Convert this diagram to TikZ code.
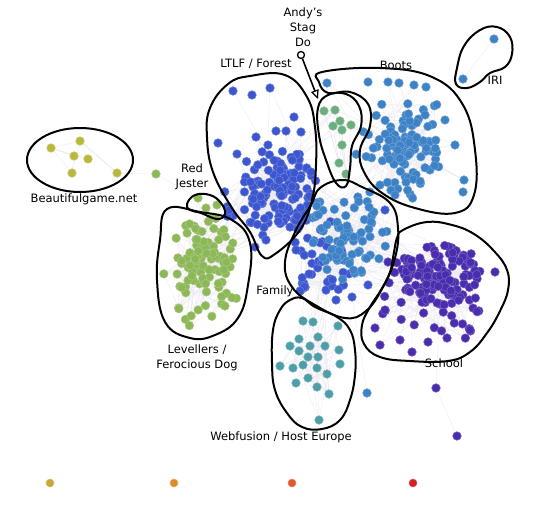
\documentclass[tikz,border=0pt]{standalone}
\usepackage{fontspec}
\setmainfont{DejaVu Sans}
\usetikzlibrary{arrows.meta}
\definecolor{cLT}{HTML}{3B56CF}
\definecolor{cBO}{HTML}{3D82C6}
\definecolor{cSC}{HTML}{4A2DAE}
\definecolor{cLV}{HTML}{8CB858}
\definecolor{cAN}{HTML}{6BAE7C}
\definecolor{cWF}{HTML}{4E9EA8}
\definecolor{cBG}{HTML}{B8B83C}
\definecolor{cEdge}{HTML}{ECE8F0}
\definecolor{cY}{HTML}{C9A838}
\definecolor{cO}{HTML}{E08A30}
\definecolor{cOR}{HTML}{E05A2A}
\definecolor{cR}{HTML}{D02222}
\tikzset{
  edge/.style={draw=cEdge, line width=0.35pt},
  netdot/.style={fill=#1, draw=#1!75!white, line width=0.5pt},
  blob/.style={draw=black, line width=2pt, line join=round},
  lbl/.style={font=\fontsize{11.5}{15}\selectfont, align=center, inner sep=0pt}
}
\newcommand\mkcl[7]{%
 \foreach \i in {1,...,#2}{%
  \pgfmathsetmacro\myang{360*rnd}%
  \pgfmathsetmacro\myr{rnd^#7}%
  \coordinate (#1-\i) at ({#3+#5*\myr*cos(\myang)},{#4+#6*\myr*sin(\myang)});}}
\newcommand\mklist[2]{\foreach \px/\py [count=\n] in {#2}{\coordinate (#1-\n) at (\px,\py);}}
\newcommand\edcl[3]{%
 \foreach \i in {1,...,#2}{\foreach \k in {1,...,#3}{%
  \pgfmathtruncatemacro\myj{random(1,#2)}%
  \draw[edge] (#1-\i) -- (#1-\myj);}}}
\newcommand\xed[5]{%
 \foreach \k in {1,...,#5}{%
  \pgfmathtruncatemacro\mya{random(1,#2)}%
  \pgfmathtruncatemacro\myb{random(1,#4)}%
  \draw[edge] (#1-\mya) -- (#3-\myb);}}
\newcommand\dtcl[3]{\foreach \i in {1,...,#2}{\path[netdot=#3] (#1-\i) circle (4.3pt);}}
\begin{document}
\begin{tikzpicture}[x=1pt,y=-1pt]
\useasboundingbox (0,0) rectangle (539,512);
\pgfmathsetseed{7}
% ---------- coordinates ----------
\mkcl{LVc}{55}{205}{252}{30}{36}{0.7}
\mkcl{LVs}{40}{203}{276}{40}{54}{0.6}
\mkcl{LTc}{95}{284}{188}{35}{38}{0.75}
\mkcl{LTs}{50}{270}{195}{48}{48}{0.6}
\mklist{LTx}{233/91,252/95,270/88,294/117,276/131,286/131,301/132,218/143,256/137,237/154,268/145,255/247,266/240}
\mkcl{BOc}{75}{406}{150}{34}{45}{0.75}
\mkcl{BOs}{35}{410}{150}{54}{54}{0.6}
\mklist{BOx}{327/83,368/82,388/82,399/83,414/85,426/87,464/180,463/192,445/120,455/145,380/185,395/195}
\mkcl{FLc}{78}{348}{232}{40}{48}{0.75}
\mkcl{FDs}{38}{322}{262}{32}{45}{0.7}
\mklist{FDx}{300/291,309/274,296/250,336/300,352/297,368/285,385/210}
\mkcl{SCc}{95}{440}{276}{38}{33}{0.75}
\mkcl{SCs}{60}{434}{294}{58}{54}{0.6}
\mklist{SCx}{375/328,380/345,400/340,412/352,428/342,447/338,470/330,495/272,385/310,388/262}
\mklist{WF}{303/321,313/322,338/326,299/339,318/337,290/346,310/346,325/346,339/350,299/351,308/357,318/357,280/366,293/368,303/365,317/368,340/364,327/374,308/378,296/383,317/387,329/394,319/420}
\mklist{AN}{324/111,335/110,340/121,333/126,342/130,351/125,342/145,339/163,346/174}
\mklist{BG}{51/148,80/141,74/156,88/159,72/173,117/173}
\mklist{RJ}{198/198,206/208,217/205}
\mklist{IR}{494/39,463/79}
\mklist{OUT}{367/393,436/388,457/436}
\coordinate (gout) at (156,174);
% ---------- edges ----------
\edcl{LVc}{55}{2}\edcl{LVs}{40}{2}\xed{LVc}{55}{LVs}{40}{40}
\edcl{LTc}{95}{2}\edcl{LTs}{50}{2}\xed{LTc}{95}{LTs}{50}{40}\xed{LTx}{13}{LTc}{95}{20}
\edcl{BOc}{75}{2}\edcl{BOs}{35}{2}\xed{BOc}{75}{BOs}{35}{30}\xed{BOx}{12}{BOc}{75}{20}
\edcl{FLc}{78}{2}\edcl{FDs}{38}{2}\xed{FLc}{78}{FDs}{38}{30}
\edcl{SCc}{95}{2}\edcl{SCs}{60}{2}\xed{SCc}{95}{SCs}{60}{40}\xed{SCx}{10}{SCc}{95}{15}
\edcl{WF}{23}{3}\edcl{AN}{9}{3}\edcl{BG}{6}{3}
\xed{LTc}{95}{FLc}{78}{25}\xed{LTs}{50}{LVc}{55}{20}\xed{FLc}{78}{SCc}{95}{25}
\xed{FLc}{78}{BOc}{75}{20}\xed{WF}{23}{FDs}{38}{15}\xed{AN}{9}{LTc}{95}{10}
\xed{AN}{9}{BOc}{75}{8}\xed{RJ}{3}{LVc}{55}{6}\xed{SCs}{60}{FDs}{38}{15}
\draw[edge] (IR-1) -- (IR-2);
\draw[edge] (BG-6) -- (gout) -- (RJ-1);
\draw[edge] (OUT-2) -- (OUT-3);
\draw[edge] (OUT-1) -- (FDx-5);
\draw[edge] (OUT-2) -- (SCc-3);
% ---------- dots ----------
\dtcl{LVs}{40}{cLV}\dtcl{LVc}{55}{cLV}
\dtcl{LTs}{50}{cLT}\dtcl{LTc}{95}{cLT}\dtcl{LTx}{13}{cLT}
\dtcl{BOs}{35}{cBO}\dtcl{BOc}{75}{cBO}\dtcl{BOx}{12}{cBO}
\dtcl{FDs}{38}{cLT}\dtcl{FDx}{7}{cLT}\dtcl{FLc}{78}{cBO}
\dtcl{SCs}{60}{cSC}\dtcl{SCc}{95}{cSC}\dtcl{SCx}{10}{cSC}
\dtcl{WF}{23}{cWF}\dtcl{AN}{9}{cAN}\dtcl{BG}{6}{cBG}\dtcl{RJ}{3}{cLV}
\dtcl{IR}{2}{cBO}
\path[netdot=cLV] (gout) circle (4.3pt);
\path[netdot=cBO] (OUT-1) circle (4.3pt);
\path[netdot=cSC] (OUT-2) circle (4.3pt);
\path[netdot=cSC] (OUT-3) circle (4.3pt);
\coordinate (y1) at (50,483);\coordinate (y2) at (174,483);
\coordinate (y3) at (292,483);\coordinate (y4) at (413,483);
\path[netdot=cY] (y1) circle (4pt);
\path[netdot=cO] (y2) circle (4pt);
\path[netdot=cOR] (y3) circle (4pt);
\path[netdot=cR] (y4) circle (4pt);
% ---------- blobs ----------
\draw[blob] (80,160) ellipse [x radius=53pt, y radius=32pt];
\draw[blob] plot[smooth cycle, tension=0.7] coordinates {(187,204) (195,195) (210,195) (221,203) (225,214) (217,219) (201,213) (190,210)};
\draw[blob] plot[smooth cycle, tension=0.7] coordinates {(167,209) (200,212) (232,220) (250,243) (248,285) (238,318) (215,335) (190,338) (165,322) (157,280) (160,240)};
\draw[blob] plot[smooth cycle, tension=0.7] coordinates {(250,76) (228,84) (210,108) (207,137) (213,172) (232,208) (250,232) (262,256) (275,254) (300,230) (312,200) (316,165) (315,127) (307,97) (285,75)};
\draw[blob] plot[smooth cycle, tension=0.7] coordinates {(318,108) (328,95) (346,94) (359,106) (361,126) (352,146) (350,168) (346,186) (336,183) (326,160) (319,135)};
\draw[blob] plot[smooth cycle, tension=0.7] coordinates {(322,72) (380,68) (432,77) (463,105) (475,150) (474,195) (455,213) (415,208) (382,193) (364,172) (360,150) (370,126) (368,104) (350,92) (328,93) (319,82)};
\draw[blob] plot[smooth cycle, tension=0.7] coordinates {(320,188) (342,180) (362,187) (390,203) (398,228) (395,258) (383,287) (366,311) (345,318) (315,305) (292,287) (285,262) (296,230) (311,205)};
\draw[blob] plot[smooth cycle, tension=0.7] coordinates {(403,230) (427,222) (452,225) (474,234) (494,251) (507,270) (508,290) (500,311) (487,333) (470,352) (448,361) (410,361) (380,357) (364,344) (362,325) (370,307) (381,290) (390,272) (394,252) (397,238)};
\draw[blob] plot[smooth cycle, tension=0.7] coordinates {(290,300) (302,298) (315,307) (337,317) (350,330) (355,350) (355,375) (350,400) (340,420) (322,429) (302,427) (287,413) (275,390) (272,363) (273,330) (280,310)};
\draw[blob] plot[smooth cycle, tension=0.7] coordinates {(457,68) (464,46) (480,30) (497,27) (510,37) (512,54) (505,67) (490,73) (480,82) (467,88) (456,84)};
% ---------- arrow ----------
\node[circle, draw, fill=white, line width=1.3pt, inner sep=0pt, minimum size=7pt] (andyc) at (301,55) {};
\coordinate (andyt) at (318,99);
\draw[line width=1.6pt, -{Triangle[open, length=9pt, width=8pt, line width=1.2pt]}] (andyc) -- (andyt);
% ---------- labels ----------
\node[lbl] (tAndy) at (303,27) {Andy's\\Stag\\Do};
\node[lbl] (tLTLF) at (256,64) {LTLF / Forest};
\node[lbl] (tBoots) at (396,65) {Boots};
\node[lbl] (tIRI) at (495,80) {IRI};
\node[lbl] (tRJ) at (192,177) {Red\\Jester};
\node[lbl] (tBG) at (84,199) {Beautifulgame.net};
\node[lbl] (tFam) at (275,291) {Family};
\node[lbl] (tLev) at (197,358) {Levellers /\\Ferocious Dog};
\node[lbl] (tSch) at (444,363) {School};
\node[lbl] (tWF) at (281,437) {Webfusion / Host Europe};
\end{tikzpicture}
\end{document}
